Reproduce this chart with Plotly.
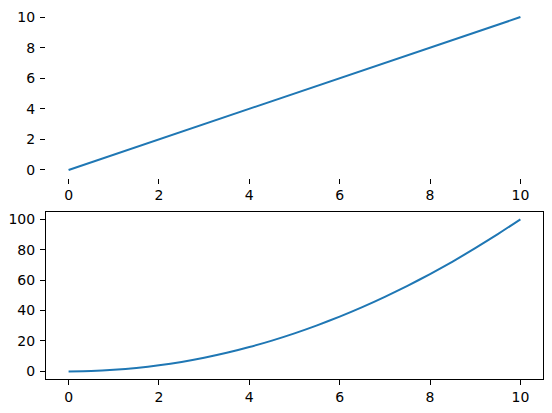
import plotly.graph_objects as go
from plotly.subplots import make_subplots

# values
x_line = [0, 1, 2, 3, 4, 5, 6, 7, 8, 9, 10]
y_line = [0, 1, 2, 3, 4, 5, 6, 7, 8, 9, 10]

x_curve = [0, 0.5, 1, 1.5, 2, 2.5, 3, 3.5, 4, 4.5, 5, 5.5, 6, 6.5, 7, 7.5, 8, 8.5, 9, 9.5, 10]
y_curve = [0, 0.25, 1, 2.25, 4, 6.25, 9, 12.25, 16, 20.25, 25, 30.25, 36, 42.25, 49,
           56.25, 64, 72.25, 81, 90.25, 100]

x_ticks = [0, 2, 4, 6, 8, 10]
y_ticks_top = [0, 2, 4, 6, 8, 10]
y_ticks_bottom = [0, 20, 40, 60, 80, 100]

# the page body has an 8px margin, so the figure is drawn 8px smaller
# and every pixel position below is shifted by that amount
PAD = 8
W, H = 552 - PAD, 413 - PAD
blue = '#1f77b4'
font = dict(family='DejaVu Sans', size=14, color='black')

fig = make_subplots(rows=2, cols=1)

fig.add_trace(go.Scatter(x=x_line, y=y_line, mode='lines',
                         line=dict(color=blue, width=2)), row=1, col=1)
fig.add_trace(go.Scatter(x=x_curve, y=y_curve, mode='lines',
                         line=dict(color=blue, width=2, shape='spline', smoothing=0.6)),
              row=2, col=1)

# axes placement in reference pixels
left, right = 46 - PAD, 543 - PAD
top_box = (9.4 - PAD, 177.6 - PAD)
bot_box = (211.7 - PAD, 379 - PAD)

axis_common = dict(
    ticks='outside', ticklen=5, tickwidth=1, tickcolor='black',
    showgrid=False, zeroline=False, automargin=False, tickfont=font,
)

fig.update_xaxes(axis_common)
fig.update_yaxes(axis_common, ticklabelstandoff=2)

fig.update_layout(
    xaxis=dict(domain=[left / W, right / W], range=[-0.5, 10.5],
               tickvals=x_ticks, showline=False),
    yaxis=dict(domain=[1 - top_box[1] / H, 1 - top_box[0] / H], range=[-0.5, 10.5],
               tickvals=y_ticks_top, showline=False),
    xaxis2=dict(domain=[left / W, right / W], range=[-0.5, 10.5],
                tickvals=x_ticks, showline=True, linecolor='black', linewidth=1,
                mirror=True),
    yaxis2=dict(domain=[1 - bot_box[1] / H, 1 - bot_box[0] / H], range=[-5, 105],
                tickvals=y_ticks_bottom, showline=True, linecolor='black',
                linewidth=1, mirror=True),
    width=W, height=H,
    margin=dict(l=0, r=0, t=0, b=0),
    plot_bgcolor='white', paper_bgcolor='white',
    showlegend=False,
)

fig.write_html("out.html")
